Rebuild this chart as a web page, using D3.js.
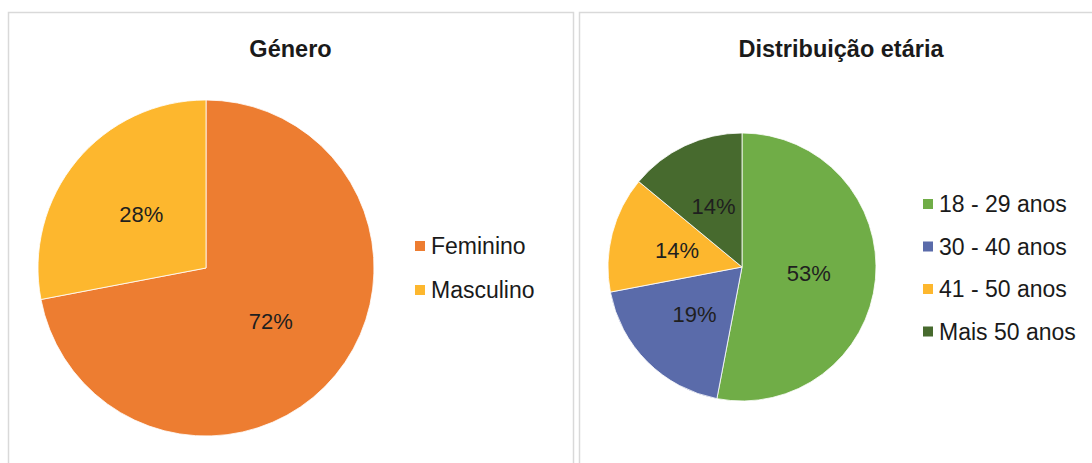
<!DOCTYPE html>
<html lang="pt">
<head>
<meta charset="utf-8">
<script src="https://cdn.jsdelivr.net/npm/d3@7"></script>
<style>
  html, body { margin: 0; padding: 0; background: #ffffff; }
  svg { display: block; font-family: "Liberation Sans", Arial, sans-serif; }
</style>
</head>
<body>
<svg id="chart" width="1092" height="463"></svg>
<script>
// Género
const genderCategories = ["Feminino", "Masculino"];
const genderValues = [72, 28];
const genderColors = ["#ED7D31", "#FDB72E"];

// Distribuição etária
const ageCategories = ["18 - 29 anos", "30 - 40 anos", "41 - 50 anos", "Mais 50 anos"];
const ageValues = [53, 19, 14, 14];
const ageColors = ["#70AD47", "#5A6BAA", "#FDB72E", "#476A2E"];

const svg = d3.select("#chart");

// Two framed panels, one per pie
const panels = [
  {
    title: "Género", cats: genderCategories, vals: genderValues, colors: genderColors,
    frame: { x: 8, y: 12, w: 565, h: 470 },
    cx: 206, cy: 268, r: 168,
    legendX: 415, legendY: 246, legendStep: 44
  },
  {
    title: "Distribuição etária", cats: ageCategories, vals: ageValues, colors: ageColors,
    frame: { x: 579, y: 12, w: 524, h: 470 },
    cx: 742, cy: 267, r: 134,
    legendX: 923, legendY: 204, legendStep: 42.5
  }
];

const pie = d3.pie().sort(null).value(d => d);

panels.forEach(p => {
  const g = svg.append("g");

  g.append("rect")
    .attr("x", p.frame.x + 0.5).attr("y", p.frame.y + 0.5)
    .attr("width", p.frame.w).attr("height", p.frame.h)
    .attr("fill", "#ffffff")
    .attr("stroke", "#d9d9d9")
    .attr("stroke-width", 1.5);

  g.append("text")
    .attr("x", p.frame.x + p.frame.w / 2)
    .attr("y", 57)
    .attr("text-anchor", "middle")
    .attr("font-size", 23.5)
    .attr("font-weight", "bold")
    .attr("fill", "#1a1a1a")
    .text(p.title);

  const arcs = pie(p.vals);
  const arc = d3.arc().innerRadius(0).outerRadius(p.r);
  const labelArc = d3.arc().innerRadius(p.r * 0.5).outerRadius(p.r * 0.5);

  const pieG = g.append("g").attr("transform", `translate(${p.cx},${p.cy})`);

  pieG.selectAll("path")
    .data(arcs)
    .join("path")
    .attr("d", arc)
    .attr("fill", (d, i) => p.colors[i])
    .attr("stroke", "#ffffff")
    .attr("stroke-width", 0.8);

  pieG.selectAll("text")
    .data(arcs)
    .join("text")
    .attr("transform", d => `translate(${labelArc.centroid(d)})`)
    .attr("text-anchor", "middle")
    .attr("dy", "0.36em")
    .attr("font-size", 22)
    .attr("fill", "#1f1f1f")
    .text(d => d3.format(".0f")(d.value) + "%");

  const legend = g.append("g");
  const rows = legend.selectAll("g")
    .data(p.cats)
    .join("g")
    .attr("transform", (d, i) => `translate(${p.legendX},${p.legendY + i * p.legendStep})`);

  rows.append("rect")
    .attr("x", 0).attr("y", -5)
    .attr("width", 10).attr("height", 10)
    .attr("fill", (d, i) => p.colors[i]);

  rows.append("text")
    .attr("x", 16)
    .attr("dy", "0.36em")
    .attr("font-size", 23)
    .attr("fill", "#1a1a1a")
    .text(d => d);
});
</script>
</body>
</html>
